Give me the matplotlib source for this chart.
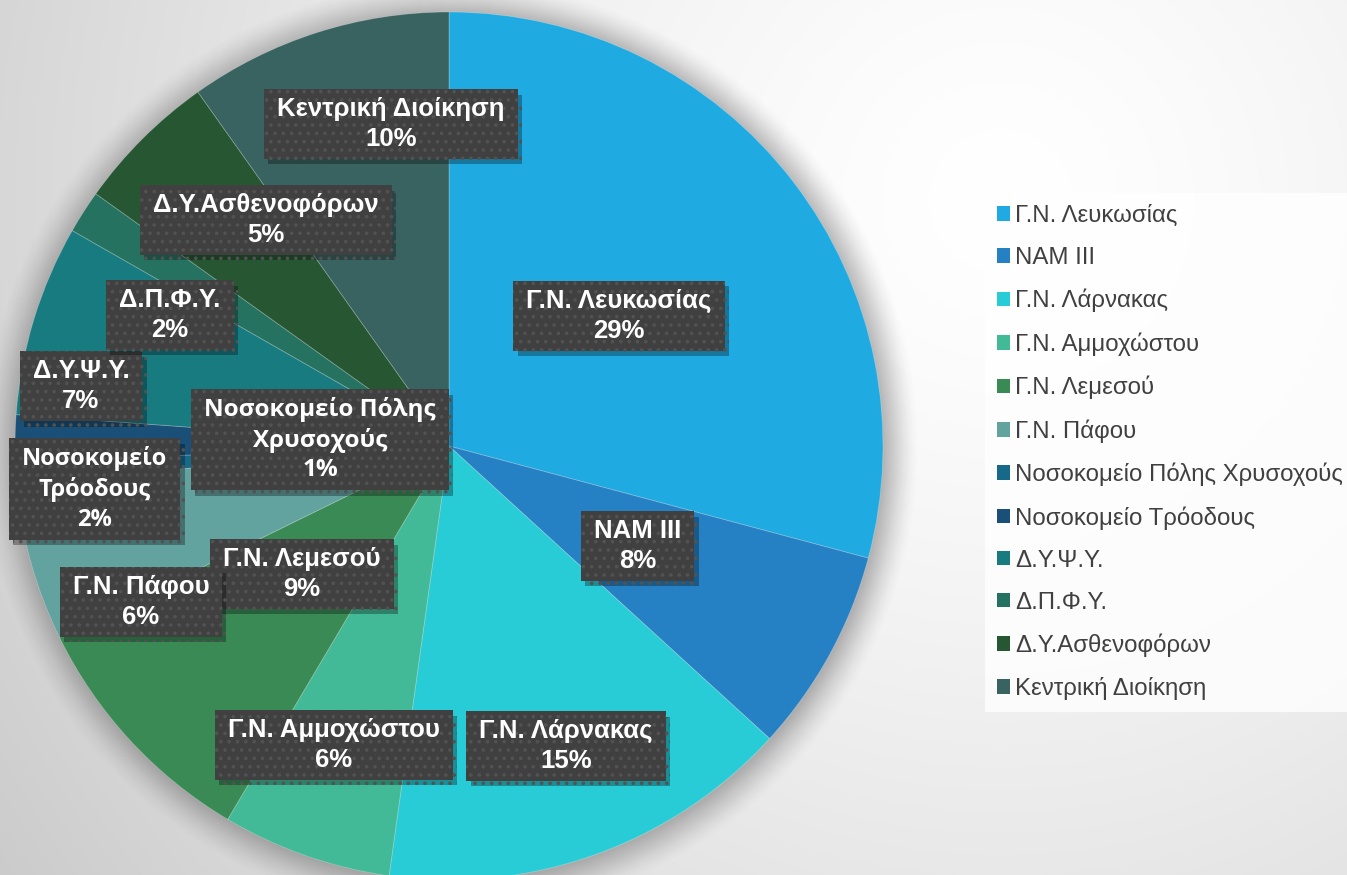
import numpy as np
import matplotlib
matplotlib.use("Agg")
import matplotlib.pyplot as plt
from matplotlib.patches import Circle, Rectangle, Patch
import matplotlib.patheffects as pe

plt.rcParams['font.family'] = ['Liberation Sans', 'DejaVu Sans']

# ---- data ----
categories = ["Γ.Ν. Λευκωσίας", "NAM III", "Γ.Ν. Λάρνακας", "Γ.Ν. Αμμοχώστου",
              "Γ.Ν. Λεμεσού", "Γ.Ν. Πάφου", "Νοσοκομείο Πόλης Χρυσοχούς",
              "Νοσοκομείο Τρόοδους", "Δ.Υ.Ψ.Υ.", "Δ.Π.Φ.Υ.",
              "Δ.Υ.Ασθενοφόρων", "Κεντρική Διοίκηση"]
values = [29.1, 7.6, 15.4, 6.3, 9.2, 5.9, 0.8, 1.7, 7.1, 1.6, 5.3, 9.8]
label_names = ["Γ.Ν. Λευκωσίας", "NAM III", "Γ.Ν. Λάρνακας", "Γ.Ν. Αμμοχώστου",
               "Γ.Ν. Λεμεσού", "Γ.Ν. Πάφου", "Νοσοκομείο Πόλης\nΧρυσοχούς",
               "Νοσοκομείο\nΤρόοδους", "Δ.Υ.Ψ.Υ.", "Δ.Π.Φ.Υ.",
               "Δ.Υ.Ασθενοφόρων", "Κεντρική Διοίκηση"]
colors = ["#1fabe2", "#2581c4", "#28ccd6", "#42b997", "#3a8a55", "#62a39f",
          "#17698a", "#1a4f78", "#177b80", "#267260", "#265632", "#386360"]

# ---- layout (label centres in pie data units) ----
label_pos = [(0.392, 0.300), (0.435, -0.230), (0.270, -0.691), (-0.265, -0.689),
             (-0.339, -0.295), (-0.710, -0.359), (-0.297, 0.014), (-0.816, -0.099),
             (-0.848, 0.138), (-0.643, 0.302), (-0.422, 0.521), (-0.134, 0.742)]
label_fonts = ['Liberation Sans'] * 6 + ['Open Sans', 'Open Sans'] + ['Liberation Sans'] * 4
label_sizes = [18.5] * 6 + [17.5, 17.0] + [18.5] * 4

W, H = 1347, 875
fig = plt.figure(figsize=(W / 100, H / 100), dpi=100)

# background radial gradient
bg = fig.add_axes([0, 0, 1, 1], zorder=0)
yy, xx = np.mgrid[0:H, 0:W]
d = np.sqrt((xx - 1000) ** 2 + ((yy - 200) * 1.0) ** 2)
g = 1.0 - 0.21 * np.clip(d / 1235, 0, 1.2) ** 1.4
img = np.dstack([g, g, g])
bg.imshow(img, extent=[0, W, H, 0], aspect='auto', interpolation='bilinear')
bg.set_xlim(0, W)
bg.set_ylim(H, 0)
bg.axis('off')

# pie axes (slightly larger than the pie so the shadow is not clipped)
cx, cy, R = 449, 446, 434
M = 1.12
ax = fig.add_axes([(cx - R * M) / W, (H - cy - R * M) / H, 2 * R * M / W, 2 * R * M / H],
                  zorder=1)

# soft shadow around the pie
for r, a in zip(np.linspace(1.075, 1.0, 16), np.linspace(0.01, 0.07, 16)):
    ax.add_patch(Circle((0.004, -0.006), r, color='#7a7a7a', alpha=a, lw=0, zorder=0))

wedges, _ = ax.pie(values, colors=colors, startangle=90, counterclock=False,
                   radius=1.0, center=(0, 0), frame=False,
                   wedgeprops=dict(linewidth=0.6, edgecolor=(1, 1, 1, 0.25)))
ax.set_xlim(-M, M)
ax.set_ylim(-M, M)
ax.set_aspect('equal')
ax.axis('off')

texts = []
for name, v, (x, y), fnt, fs in zip(label_names, values, label_pos, label_fonts, label_sizes):
    txt = f"{name}\n{round(v):d}%"
    t = ax.text(x, y, txt, ha='center', va='center', fontsize=fs, fontweight='bold',
                family=[fnt, 'DejaVu Sans'], color='white', linespacing=1.3, zorder=6)
    texts.append(t)

fig.canvas.draw()
renderer = fig.canvas.get_renderer()
plt.rcParams['hatch.linewidth'] = 1.4
padx, pady = 13, 8
inv = ax.transData.inverted()
for t in texts:
    bb = t.get_window_extent(renderer)
    (x0, y0) = inv.transform((bb.x0 - padx, bb.y0 - pady))
    (x1, y1) = inv.transform((bb.x1 + padx, bb.y1 + pady))
    rect = Rectangle((x0, y0), x1 - x0, y1 - y0, facecolor='#404040',
                     edgecolor='#525252', lw=0, hatch='..', zorder=5)
    rect.set_path_effects([pe.SimplePatchShadow(offset=(3, -4), shadow_rgbFace='black',
                                                alpha=0.3), pe.Normal()])
    ax.add_patch(rect)

# legend
handles = [Patch(facecolor=c, edgecolor='none') for c in colors]
leg = fig.legend(handles, categories, loc='upper left',
                 bbox_to_anchor=(985 / W, 1 - 193 / H), frameon=True,
                 fontsize=17.3, handlelength=0.55, handleheight=0.55,
                 handletextpad=0.2, labelspacing=0.83, borderpad=0.5,
                 borderaxespad=0, labelcolor='#404040')
leg.get_frame().set_facecolor((1, 1, 1, 0.3))
leg.get_frame().set_edgecolor('none')
leg.get_frame().set_boxstyle('square', pad=0)
leg.set_zorder(3)

fig.savefig("out.png", dpi=100)
